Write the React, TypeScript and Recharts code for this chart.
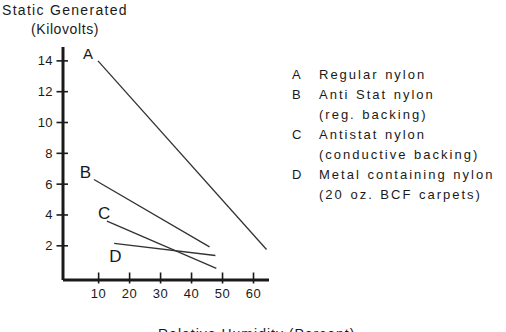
import React from "react";
import { LineChart, Line, XAxis, YAxis, Scatter } from "recharts";

const xTicks = [10, 20, 30, 40, 50, 60];
const yTicks = [2, 4, 6, 8, 10, 12, 14];

const seriesA = [
  { x: 9.8, y: 14.0 },
  { x: 64.2, y: 1.76 },
];
const seriesB = [
  { x: 8.5, y: 6.3 },
  { x: 45.8, y: 1.93 },
];
const seriesC = [
  { x: 12.7, y: 3.6 },
  { x: 48, y: 0.53 },
];
const seriesD = [
  { x: 15, y: 2.15 },
  { x: 47.7, y: 1.37 },
];
const curveLabels = [
  { x: 6.6, y: 14.1, label: "A", size: 15 },
  { x: 5.7, y: 6.37, label: "B", size: 17 },
  { x: 11.8, y: 3.77, label: "C", size: 17 },
  { x: 15.4, y: 0.96, label: "D", size: 17 },
];
const legendRows = [
  { key: "A", text: "Regular nylon" },
  { key: "B", text: "Anti Stat nylon" },
  { key: "", text: "(reg. backing)" },
  { key: "C", text: "Antistat nylon" },
  { key: "", text: "(conductive backing)" },
  { key: "D", text: "Metal containing nylon" },
  { key: "", text: "(20 oz. BCF carpets)" },
];

const FONT = "'Liberation Sans', Arial, Helvetica, sans-serif";
const INK = "#1a1a1a";

const YTick = (props: any) => {
  const { x, y, payload } = props;
  return (
    <g>
      <line x1={x - 6.5} x2={x + 5} y1={y} y2={y} stroke={INK} strokeWidth={1.6} />
      <text x={x - 10} y={y + 4.5} textAnchor="end" fontSize={13} fill={INK} fontFamily={FONT} letterSpacing={0.4}>
        {payload.value}
      </text>
    </g>
  );
};

const XTick = (props: any) => {
  const { x, y, payload } = props;
  return (
    <g>
      <line x1={x} x2={x} y1={y - 7.5} y2={y + 3.5} stroke={INK} strokeWidth={1.6} />
      <text x={x} y={y + 18} textAnchor="middle" fontSize={13} fill={INK} fontFamily={FONT} letterSpacing={0.6}>
        {payload.value}
      </text>
    </g>
  );
};

const LabelShape = (props: any) => {
  const { cx, cy, payload } = props;
  return (
    <text x={cx} y={cy} textAnchor="middle" fontSize={payload.size} fill={INK} fontFamily={FONT}>
      {payload.label}
    </text>
  );
};

export default function App() {
  return (
    <div style={{ position: "absolute", left: 0, top: 0, width: 506, height: 332, background: "#fff", overflow: "hidden" }}>
      <LineChart width={506} height={332} margin={{ top: 47, right: 237, left: 0, bottom: 0 }}>
        <XAxis
          type="number"
          dataKey="x"
          domain={[-1.5, 65]}
          allowDataOverflow
          ticks={xTicks}
          tick={<XTick />}
          tickSize={0}
          tickMargin={0}
          tickLine={false}
          axisLine={{ stroke: INK, strokeWidth: 3 }}
          height={52}
          interval={0}
        />
        <YAxis
          type="number"
          dataKey="y"
          domain={[-0.22, 14.9]}
          allowDataOverflow
          ticks={yTicks}
          tick={<YTick />}
          tickSize={0}
          tickMargin={0}
          tickLine={false}
          axisLine={{ stroke: INK, strokeWidth: 3 }}
          width={63}
          interval={0}
        />
        <Line data={seriesA} dataKey="y" stroke="#333" strokeWidth={1.3} dot={false} isAnimationActive={false} />
        <Line data={seriesB} dataKey="y" stroke="#333" strokeWidth={1.3} dot={false} isAnimationActive={false} />
        <Line data={seriesC} dataKey="y" stroke="#333" strokeWidth={1.3} dot={false} isAnimationActive={false} />
        <Line data={seriesD} dataKey="y" stroke="#333" strokeWidth={1.3} dot={false} isAnimationActive={false} />
        <Scatter data={curveLabels} dataKey="y" shape={<LabelShape />} isAnimationActive={false} />
      </LineChart>
      <svg width={506} height={332} style={{ position: "absolute", left: 0, top: 0, pointerEvents: "none" }}>
        <text x={2} y={15} fontSize={14} fill={INK} fontFamily={FONT} letterSpacing={1.3}>
          Static Generated
        </text>
        <text x={65} y={34} textAnchor="middle" fontSize={14} fill={INK} fontFamily={FONT} letterSpacing={0.6}>
          (Kilovolts)
        </text>
        <text x={158} y={339} fontSize={14} fill={INK} fontFamily={FONT} letterSpacing={1}>
          Relative Humidity (Percent)
        </text>
        {legendRows.map((r, i) => (
          <g key={i}>
            {r.key && (
              <text x={292} y={79 + i * 20} fontSize={13} fill={INK} fontFamily={FONT}>
                {r.key}
              </text>
            )}
            <text x={319} y={79 + i * 20} fontSize={13} fill={INK} fontFamily={FONT} letterSpacing={2} wordSpacing={1}>
              {r.text}
            </text>
          </g>
        ))}
      </svg>
    </div>
  );
}
